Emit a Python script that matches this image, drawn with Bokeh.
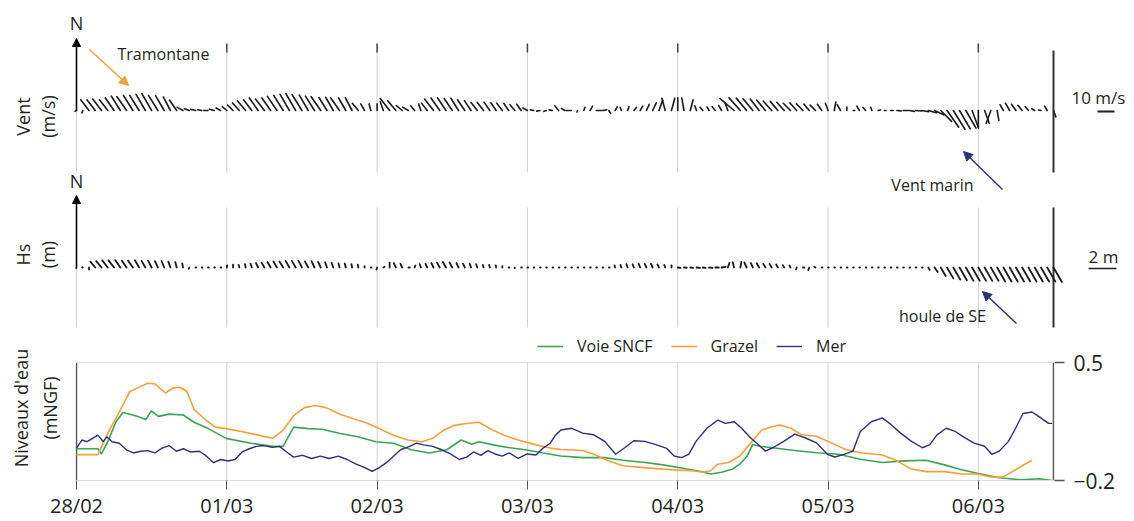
import math
from bokeh.plotting import figure
from bokeh.models import Range1d, LinearAxis, FixedTicker, Label, Arrow, NormalHead
from bokeh.embed import file_html
from bokeh.resources import INLINE

FONT = "Open Sans"
TXT = "#231f20"
C_SNCF = "#3ba455"
C_GRAZEL = "#f5a03a"
C_MER = "#2e307a"

DAY_TICKS = [0, 1, 2, 3, 4, 5, 6]
DAY_LABELS = ["28/02", "01/03", "02/03", "03/03", "04/03", "05/03", "06/03"]
LEVEL_TICKS = [-0.2, 0.5]
LEVEL_LABELS = ["\u22120.2", "0.5"]

# hourly wind (speed m/s, direction deg from N) starting 28/02 00:00
WIND_SPEED = [1, 1.5, 8, 8, 8.5, 8, 9, 10, 10, 10.5, 10.5, 11,
              11.5, 10.5, 10, 9, 7.5, 4, 3, 3, 2.5, 2.5, 3, 3,
              3.5, 4.5, 6, 7.5, 8, 9, 8.5, 9, 10, 10.5, 11, 11.5,
              11, 10.5, 10, 10, 9, 9, 9, 8.5, 8.5, 5.5, 4.5, 4,
              4, 5.5, 9, 7.5, 4.5, 4, 3.5, 4, 5.5, 8.5, 9, 9,
              8.5, 8.5, 7.5, 7, 6, 6, 6, 5.5, 5.5, 5, 4.5, 4.5,
              3, 2, 2, 1.5, 2, 3.5, 2.5, 3, 1, 2, 3, 3,
              2.5, 2, 2.5, 2, 2.5, 2.5, 3, 4, 5, 6.5, 7.5, 7.5,
              7.5, 7.5, 6.5, 3, 2.5, 2.5, 3, 3.5, 5, 11, 10, 9.5,
              9, 8.5, 8, 7.5, 7, 6.5, 6, 6, 5.5, 5, 4.5, 4.5,
              4.5, 5, 4, 2, 1, 3, 2.5, 2, 1.5, 1, 1.5, 2.5,
              3, 3, 3.5, 4, 5, 6, 9, 12, 13, 12.5, 12, 11,
              10, 8, 8, 6, 4, 5, 4.5, 4, 3, 2, 1.5, 3, 4]
WIND_DIR = [240, 200, 322, 322, 322, 322, 325, 328, 325, 328, 328, 330,
            330, 328, 330, 332, 325, 300, 290, 285, 280, 270, 285, 300,
            310, 315, 318, 320, 322, 325, 322, 325, 326, 328, 330, 330,
            328, 330, 328, 325, 328, 330, 325, 330, 332, 320, 330, 345,
            0, 340, 322, 320, 310, 300, 320, 340, 322, 322, 325, 326,
            326, 328, 326, 326, 322, 322, 325, 326, 322, 326, 320, 325,
            300, 280, 260, 250, 280, 320, 300, 270, 200, 20, 30, 90,
            80, 150, 30, 340, 20, 40, 30, 25, 25, 20, 345, 15,
            0, 350, 15, 340, 320, 330, 320, 330, 340, 310, 318, 320,
            320, 322, 320, 318, 320, 318, 315, 318, 315, 320, 315, 325,
            340, 10, 330, 0, 90, 330, 320, 340, 80, 90, 90, 95,
            90, 100, 95, 100, 105, 115, 135, 145, 148, 150, 150, 160,
            180, 160, 200, 170, 330, 330, 325, 320, 320, 300, 280, 330, 160]

# hourly significant wave height (m) and direction
HS = [0.05, 0.05, 0.15, 0.55, 0.6, 0.65, 0.65, 0.65, 0.6, 0.6, 0.6, 0.55,
      0.55, 0.5, 0.5, 0.45, 0.4, 0.3, 0.1, 0.05, 0.05, 0.05, 0.05, 0.05,
      0.15, 0.2, 0.2, 0.25, 0.3, 0.35, 0.4, 0.45, 0.5, 0.5, 0.55, 0.55,
      0.55, 0.5, 0.5, 0.45, 0.4, 0.35, 0.3, 0.3, 0.25, 0.2, 0.1, 0.05,
      0.15, 0.1, 0.35, 0.35, 0.3, 0.1, 0.15, 0.25, 0.3, 0.35, 0.4, 0.45,
      0.4, 0.35, 0.3, 0.3, 0.25, 0.2, 0.2, 0.15, 0.1, 0.05, 0.05, 0.05,
      0.05, 0.05, 0.05, 0.05, 0.05, 0.05, 0.05, 0.05, 0.05, 0.05, 0.05, 0.05,
      0.05, 0.05, 0.15, 0.2, 0.25, 0.25, 0.3, 0.3, 0.3, 0.25, 0.2, 0.15,
      0.2, 0.2, 0.2, 0.25, 0.2, 0.25, 0.25, 0.3, 0.35, 0.4, 0.4, 0.4,
      0.35, 0.35, 0.3, 0.3, 0.25, 0.2, 0.15, 0.15, 0.1, 0.2, 0.1, 0.05,
      0.05, 0.05, 0.05, 0.05, 0.05, 0.05, 0.05, 0.05, 0.05, 0.05, 0.05, 0.05,
      0.05, 0.05, 0.05, 0.05, 0.2, 0.4, 0.7, 0.9, 1.0, 1.05, 1.1, 1.1,
      1.1, 1.1, 1.1, 1.15, 1.15, 1.15, 1.15, 1.15, 1.15, 1.15, 1.15, 1.15, 1.2]
HS_DIR = [200, 300, 180, 320, 320, 322, 322, 325, 325, 325, 330, 330,
          332, 335, 338, 340, 345, 350, 200, 90, 90, 90, 90, 90,
          10, 0, 345, 350, 340, 335, 330, 330, 330, 328, 330, 330,
          332, 332, 335, 335, 340, 340, 345, 345, 350, 350, 0, 90,
          200, 60, 0, 335, 335, 90, 20, 340, 335, 335, 330, 330,
          332, 335, 335, 340, 340, 345, 345, 350, 0, 90, 200, 90,
          90, 90, 90, 90, 90, 90, 90, 90, 90, 90, 90, 90,
          90, 90, 345, 340, 340, 338, 338, 335, 335, 335, 340, 0,
          100, 95, 100, 95, 100, 95, 90, 80, 20, 345, 10, 335,
          335, 330, 330, 330, 330, 330, 335, 200, 90, 200, 300, 90,
          90, 90, 90, 90, 90, 90, 90, 90, 90, 90, 90, 90,
          90, 90, 90, 90, 150, 145, 150, 150, 150, 150, 150, 150,
          150, 150, 150, 150, 150, 150, 150, 150, 150, 150, 150, 150, 150]

# water levels (days since 28/02 00:00, m NGF)
SNCF_T = [0, 0.142, 0.166, 0.213, 0.261, 0.308, 0.355, 0.403, 0.462, 0.498,
          0.545, 0.616, 0.711, 0.782, 0.877, 0.995, 1.161, 1.303, 1.374, 1.445,
          1.540, 1.635, 1.754, 1.872, 1.991, 2.109, 2.227, 2.346, 2.464, 2.559,
          2.630, 2.678, 2.773, 2.867, 2.986, 3.104, 3.222, 3.368, 3.514, 3.635,
          3.781, 3.903, 4.024, 4.146, 4.219, 4.292, 4.365, 4.413, 4.462, 4.498,
          4.547, 4.632, 4.778, 4.923, 5.069, 5.215, 5.361, 5.506, 5.652, 5.774,
          5.895, 6.017, 6.139, 6.285, 6.406, 6.491]
SNCF_V = [-0.011, -0.011, -0.042, 0.041, 0.147, 0.205, 0.195, 0.182, 0.163, 0.215,
          0.182, 0.195, 0.190, 0.147, 0.109, 0.051, 0.022, 0.003, 0.003, 0.118,
          0.109, 0.105, 0.080, 0.060, 0.031, 0.022, -0.017, -0.036, -0.017, 0.041,
          0.016, 0.031, 0.012, -0.003, -0.017, -0.036, -0.054, -0.064, -0.064, -0.079,
          -0.093, -0.107, -0.126, -0.145, -0.161, -0.151, -0.132, -0.103, -0.054, 0.014,
          0.004, -0.005, -0.021, -0.035, -0.044, -0.073, -0.093, -0.083, -0.079, -0.107,
          -0.138, -0.161, -0.184, -0.196, -0.190, -0.200]

GRAZEL_T = [0, 0.142, 0.213, 0.284, 0.355, 0.403, 0.474, 0.521, 0.592, 0.640,
            0.687, 0.735, 0.782, 0.853, 0.924, 0.995, 1.114, 1.209, 1.303, 1.374,
            1.445, 1.517, 1.588, 1.659, 1.754, 1.848, 1.919, 2.014, 2.109, 2.204,
            2.299, 2.370, 2.441, 2.512, 2.583, 2.678, 2.749, 2.844, 2.938, 3.057,
            3.152, 3.222, 3.368, 3.441, 3.538, 3.635, 3.757, 3.903, 4.000, 4.097,
            4.170, 4.219, 4.267, 4.340, 4.413, 4.486, 4.559, 4.632, 4.680, 4.753,
            4.826, 4.923, 5.021, 5.118, 5.215, 5.361, 5.458, 5.555, 5.652, 5.774,
            5.895, 5.993, 6.090, 6.163, 6.236, 6.309, 6.357]
GRAZEL_V = [-0.046, -0.046, 0.089, 0.205, 0.330, 0.350, 0.379, 0.375, 0.321, 0.350,
            0.355, 0.330, 0.224, 0.166, 0.118, 0.109, 0.089, 0.070, 0.051, 0.099,
            0.186, 0.234, 0.247, 0.234, 0.195, 0.166, 0.147, 0.109, 0.070, 0.041,
            0.031, 0.051, 0.099, 0.128, 0.138, 0.147, 0.109, 0.070, 0.041, 0.012,
            -0.007, -0.015, -0.021, -0.044, -0.083, -0.112, -0.122, -0.132, -0.138, -0.142,
            -0.151, -0.142, -0.103, -0.093, -0.054, 0.024, 0.101, 0.121, 0.131, 0.111,
            0.072, 0.063, 0.024, -0.015, -0.035, -0.048, -0.083, -0.132, -0.147, -0.147,
            -0.161, -0.161, -0.180, -0.180, -0.142, -0.103, -0.079]

MER_T = [0, 0.036, 0.071, 0.107, 0.142, 0.178, 0.201, 0.237, 0.284, 0.332,
         0.379, 0.427, 0.474, 0.521, 0.569, 0.616, 0.664, 0.711, 0.758, 0.818,
         0.865, 0.912, 0.960, 1.007, 1.055, 1.102, 1.149, 1.197, 1.244, 1.303,
         1.351, 1.398, 1.445, 1.505, 1.564, 1.623, 1.682, 1.742, 1.801, 1.860,
         1.919, 1.967, 2.014, 2.062, 2.109, 2.156, 2.216, 2.263, 2.310, 2.370,
         2.430, 2.488, 2.547, 2.595, 2.642, 2.690, 2.737, 2.784, 2.832, 2.879,
         2.938, 2.998, 3.057, 3.104, 3.152, 3.187, 3.222, 3.295, 3.368, 3.441,
         3.514, 3.587, 3.647, 3.708, 3.781, 3.854, 3.927, 3.976, 4.024, 4.073,
         4.122, 4.194, 4.267, 4.316, 4.377, 4.425, 4.486, 4.535, 4.583, 4.632,
         4.705, 4.778, 4.851, 4.923, 4.996, 5.045, 5.106, 5.166, 5.215, 5.288,
         5.361, 5.422, 5.483, 5.555, 5.628, 5.677, 5.725, 5.786, 5.847, 5.895,
         5.968, 6.041, 6.090, 6.139, 6.200, 6.248, 6.297, 6.357, 6.406, 6.467, 6.491]
MER_V = [-0.007, 0.041, 0.031, 0.051, 0.070, 0.031, 0.060, 0.031, 0.022, -0.017,
         -0.036, -0.026, -0.022, -0.036, -0.007, 0.008, -0.026, -0.011, -0.030, -0.026,
         -0.055, -0.094, -0.075, -0.084, -0.075, -0.030, -0.011, 0.003, 0.008, -0.003,
         0.003, -0.030, -0.061, -0.050, -0.069, -0.055, -0.069, -0.055, -0.075, -0.103,
         -0.123, -0.146, -0.123, -0.094, -0.055, -0.017, 0.003, 0.022, 0.012, 0.003,
         -0.017, -0.042, -0.075, -0.061, -0.030, -0.050, -0.022, -0.042, -0.055, -0.036,
         -0.069, -0.042, -0.048, -0.007, 0.022, 0.070, 0.101, 0.111, 0.082, 0.072,
         0.033, -0.044, -0.005, 0.037, 0.033, 0.014, -0.009, -0.054, -0.064, -0.044,
         0.033, 0.111, 0.160, 0.140, 0.150, 0.111, 0.053, 0.014, -0.025, -0.005,
         0.033, 0.076, 0.053, 0.024, -0.044, -0.060, -0.044, -0.025, 0.092, 0.150,
         0.173, 0.131, 0.082, 0.033, -0.005, 0.014, 0.072, 0.111, 0.092, 0.063,
         0.024, 0.004, -0.044, -0.025, 0.033, 0.111, 0.199, 0.208, 0.179, 0.140, 0.140]

# ---------------- layout helpers (page pixel -> data) ----------------
W = 1134
PX_PER_DAY = 977 / 6.5
WIND_PX = 1.7    # px per m/s
HS_PX = 14.0     # px per m
TOP_H = 335
BOT_H = 521 - TOP_H


def day_at(px):
    return (px - 76) / PX_PER_DAY


def wind_at(py):
    return (110 - py) / WIND_PX


def hs_at(py):
    return (267 - py) / HS_PX


def lvl_at(py):
    return 0.5 - (py - 363) * 0.7 / 120.0


def lab(fig, x, y, text, size, align="center", angle=0.0, color=TXT, yr="default"):
    fig.add_layout(Label(x=x, y=y, text=text, text_font=FONT, text_font_size=size,
                         text_color=color, text_align=align, text_baseline="middle",
                         angle=angle, y_range_name=yr))


# ---------------- top figure: wind and waves sticks ----------------
top = figure(width=W, height=TOP_H, output_backend="svg", toolbar_location=None,
             x_range=Range1d(day_at(0), day_at(W)),
             y_range=Range1d(wind_at(TOP_H), wind_at(0)),
             x_axis_location=None, y_axis_location=None,
             min_border=0, outline_line_color=None)
top.extra_y_ranges = {"hs": Range1d(hs_at(TOP_H), hs_at(0))}
top.grid.visible = False

gx = DAY_TICKS
top.segment(x0=gx, y0=[wind_at(45)] * 7, x1=gx, y1=[wind_at(172)] * 7,
            line_color="#cfcfcf", line_width=1)
top.segment(x0=gx[1:], y0=[wind_at(43)] * 6, x1=gx[1:], y1=[wind_at(52)] * 6,
            line_color="#444444", line_width=1.5)
top.segment(x0=gx, y0=[hs_at(207)] * 7, x1=gx, y1=[hs_at(327)] * 7,
            line_color="#cfcfcf", line_width=1, y_range_name="hs")
top.segment(x0=[6.5], y0=[wind_at(50)], x1=[6.5], y1=[wind_at(172)],
            line_color="#333333", line_width=2)
top.segment(x0=[6.5], y0=[hs_at(207)], x1=[6.5], y1=[hs_at(327)],
            line_color="#333333", line_width=2, y_range_name="hs")

# wind sticks
wt = [h / 24 for h in range(len(WIND_SPEED))]
wu = [s * math.sin(math.radians(d)) for s, d in zip(WIND_SPEED, WIND_DIR)]
wv = [s * math.cos(math.radians(d)) for s, d in zip(WIND_SPEED, WIND_DIR)]
top.segment(x0=wt, y0=[0] * len(wt), x1=[t + u * WIND_PX / PX_PER_DAY for t, u in zip(wt, wu)],
            y1=wv, line_color="#1a1a1a", line_width=1.6, line_cap="round")

# wave sticks
ht = [h / 24 for h in range(len(HS))]
hu = [s * math.sin(math.radians(d)) for s, d in zip(HS, HS_DIR)]
hv = [s * math.cos(math.radians(d)) for s, d in zip(HS, HS_DIR)]
top.segment(x0=ht, y0=[0] * len(ht), x1=[t + u * HS_PX / PX_PER_DAY for t, u in zip(ht, hu)],
            y1=hv, line_color="#1a1a1a", line_width=1.8, line_cap="round", y_range_name="hs")

# north arrows
top.add_layout(Arrow(x_start=0, y_start=0, x_end=0, y_end=wind_at(38),
                     line_color="black", line_width=1.6,
                     end=NormalHead(size=8, fill_color="black", line_color="black")))
top.add_layout(Arrow(x_start=0, y_start=0, x_end=0, y_end=hs_at(195),
                     line_color="black", line_width=1.6, y_range_name="hs",
                     end=NormalHead(size=8, fill_color="black", line_color="black")))
lab(top, 0, wind_at(22), "N", "18px")
lab(top, 0, hs_at(180), "N", "18px", yr="hs")

# annotations
top.add_layout(Arrow(x_start=day_at(89), y_start=wind_at(49), x_end=day_at(128), y_end=wind_at(85),
                     line_color=C_GRAZEL, line_width=1.6,
                     end=NormalHead(size=9, fill_color=C_GRAZEL, line_color=C_GRAZEL)))
lab(top, day_at(117), wind_at(53), "Tramontane", "16px", align="left")

top.add_layout(Arrow(x_start=day_at(1002), y_start=wind_at(189), x_end=day_at(963), y_end=wind_at(151),
                     line_color=C_MER, line_width=1.4,
                     end=NormalHead(size=9, fill_color=C_MER, line_color=C_MER)))
lab(top, day_at(932), wind_at(184), "Vent marin", "16px")

top.add_layout(Arrow(x_start=day_at(1016), y_start=hs_at(323), x_end=day_at(982), y_end=hs_at(291),
                     line_color=C_MER, line_width=1.4, y_range_name="hs",
                     end=NormalHead(size=9, fill_color=C_MER, line_color=C_MER)))
lab(top, day_at(942), hs_at(315), "houle de SE", "16px", yr="hs")

# scale bars
lab(top, day_at(1071), wind_at(97), "10 m/s", "17px", align="left")
top.segment(x0=[day_at(1097)], y0=[wind_at(111)],
            x1=[day_at(1097) + 10 * WIND_PX / PX_PER_DAY], y1=[wind_at(111)],
            line_color=TXT, line_width=2)
lab(top, day_at(1088), hs_at(256), "2 m", "17px", align="left", yr="hs")
top.segment(x0=[day_at(1088)], y0=[hs_at(268)],
            x1=[day_at(1088) + 2 * HS_PX / PX_PER_DAY], y1=[hs_at(268)],
            line_color=TXT, line_width=1.5, y_range_name="hs")

# y titles
rot = math.pi / 2
lab(top, day_at(22), wind_at(116), "Vent", "18px", angle=rot)
lab(top, day_at(47), wind_at(116), "(m/s)", "18px", angle=rot)
lab(top, day_at(22), hs_at(254), "Hs", "18px", angle=rot, yr="hs")
lab(top, day_at(47), hs_at(254), "(m)", "18px", angle=rot, yr="hs")

# ---------------- bottom figure: water levels ----------------
bot = figure(width=W, height=BOT_H, output_backend="svg", toolbar_location=None,
             x_range=Range1d(day_at(75), day_at(1054)),
             y_range=Range1d(-0.2, lvl_at(TOP_H)),
             min_border_left=75, min_border_right=W - 1054,
             min_border_top=0, min_border_bottom=521 - 483,
             outline_line_color=None)

bot.segment(x0=DAY_TICKS[1:], y0=[-0.2] * 6, x1=DAY_TICKS[1:], y1=[0.5] * 6,
            line_color="#d2d2d2", line_width=1)
bot.segment(x0=[0, 6.5], y0=[-0.2, -0.2], x1=[0, 6.5], y1=[0.5, 0.5],
            line_color="#555555", line_width=1.5)

bot.line(SNCF_T, SNCF_V, line_color=C_SNCF, line_width=1.6, legend_label="Voie SNCF")
bot.line(GRAZEL_T, GRAZEL_V, line_color=C_GRAZEL, line_width=1.6, legend_label="Grazel")
bot.line(MER_T, MER_V, line_color=C_MER, line_width=1.4, legend_label="Mer")

bot.xgrid.visible = False
bot.ygrid.ticker = FixedTicker(ticks=LEVEL_TICKS)
bot.ygrid.grid_line_color = "#e3e3e3"

bot.xaxis.ticker = FixedTicker(ticks=DAY_TICKS)
bot.xaxis.major_label_overrides = dict(zip(DAY_TICKS, DAY_LABELS))
bot.xaxis.axis_line_color = "#dddddd"
bot.xaxis.major_tick_line_color = "#555555"
bot.xaxis.major_tick_out = 9
bot.xaxis.major_tick_in = 0
bot.xaxis.minor_tick_line_color = None
bot.xaxis.major_label_standoff = 2
bot.xaxis.major_label_text_font = FONT
bot.xaxis.major_label_text_font_size = "20px"
bot.xaxis.major_label_text_color = TXT

bot.yaxis.ticker = FixedTicker(ticks=[])
bot.yaxis.axis_line_color = None
bot.yaxis.minor_tick_line_color = None
bot.yaxis.major_tick_line_color = None
bot.yaxis.axis_label = "Niveaux d'eau\n(mNGF)"
bot.yaxis.axis_label_text_font = FONT
bot.yaxis.axis_label_text_font_size = "18px"
bot.yaxis.axis_label_text_font_style = "normal"
bot.yaxis.axis_label_text_color = TXT
bot.yaxis.axis_label_standoff = 14

raxis = LinearAxis(ticker=FixedTicker(ticks=LEVEL_TICKS),
                   major_label_overrides=dict(zip(LEVEL_TICKS, LEVEL_LABELS)))
raxis.axis_line_color = None
raxis.major_tick_line_color = "#555555"
raxis.major_tick_line_width = 1.5
raxis.major_tick_out = 10
raxis.major_tick_in = 0
raxis.minor_tick_line_color = None
raxis.major_label_standoff = 9
raxis.major_label_text_font = FONT
raxis.major_label_text_font_size = "21px"
raxis.major_label_text_color = TXT
bot.add_layout(raxis, "right")

leg = bot.legend[0]
leg.orientation = "horizontal"
leg.location = (462, 123)
leg.background_fill_alpha = 0
leg.border_line_alpha = 0
leg.padding = 0
leg.margin = 0
leg.spacing = 18
leg.label_standoff = 14
leg.glyph_width = 26
leg.glyph_height = 20
leg.label_height = 20
leg.label_text_font = FONT
leg.label_text_font_size = "16px"
leg.label_text_color = TXT

open("out.html", "w").write(file_html([top, bot], INLINE))
